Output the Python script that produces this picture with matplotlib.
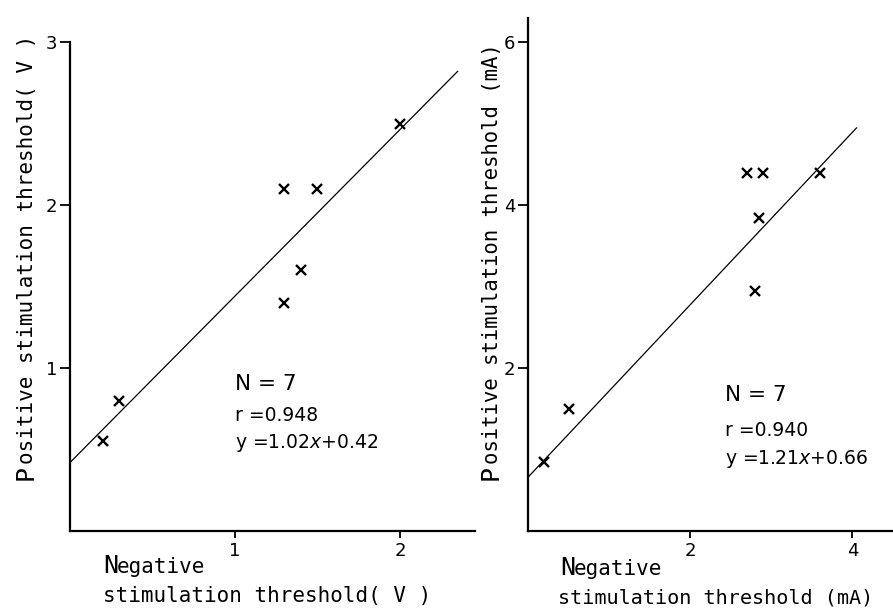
import matplotlib
matplotlib.use("Agg")
import matplotlib.pyplot as plt

# left panel: voltage thresholds
volt_neg = [0.2, 0.3, 1.3, 1.3, 1.4, 1.5, 2.0]
volt_pos = [0.55, 0.8, 1.4, 2.1, 1.6, 2.1, 2.5]
volt_fit_x = [0.0, 2.35]
volt_fit_y = [0.42, 2.82]
volt_stats = ["N = 7", "r =0.948", "y =1.02$x$+0.42"]

# right panel: current thresholds
curr_neg = [0.2, 0.5, 2.7, 2.9, 3.6, 2.85, 2.8]
curr_pos = [0.85, 1.5, 4.4, 4.4, 4.4, 3.85, 2.95]
curr_fit_x = [0.0, 4.05]
curr_fit_y = [0.66, 4.95]
curr_stats = ["N = 7", "r =0.940", "y =1.21$x$+0.66"]

W, H = 893, 610
MONO = "DejaVu Sans Mono"


def px(x, y):
    return x / W, 1 - y / H


def style_axes(ax, xticks, yticks):
    for s in ["top", "right"]:
        ax.spines[s].set_visible(False)
    for s in ["left", "bottom"]:
        ax.spines[s].set_linewidth(1.6)
    ax.set_xticks(xticks)
    ax.set_yticks(yticks)
    ax.set_xticklabels([str(t) for t in xticks])
    ax.set_yticklabels([str(t) for t in yticks])
    ax.tick_params(axis="x", length=5, width=1.3, pad=3, labelsize=13)
    ax.tick_params(axis="y", length=7, width=1.3, pad=2, labelsize=13)


def stats_text(ax, x, ys, lines):
    ax.text(x, ys[0], lines[0], fontsize=15.5, va="center", ha="left")
    ax.text(x, ys[1], lines[1], fontsize=13.5, va="center", ha="left")
    ax.text(x, ys[2], lines[2], fontsize=13.5, va="center", ha="left")


def ylabel(x, y0, rest, size=15):
    fig.text(*px(x, y0), "P", fontsize=18, family=MONO, rotation=90,
             rotation_mode="anchor", ha="left", va="baseline")
    fig.text(*px(x, y0 - 16), rest, fontsize=size, family=MONO, rotation=90,
             rotation_mode="anchor", ha="left", va="baseline")


def xlabel(x, y0, x2, y2, rest, size=15):
    fig.text(*px(x, y0), "N", fontsize=18, family=MONO,
             ha="left", va="baseline")
    fig.text(*px(x + 14, y0), "egative", fontsize=15, family=MONO,
             ha="left", va="baseline")
    fig.text(*px(x2, y2), rest, fontsize=size, family=MONO,
             ha="left", va="baseline")


fig = plt.figure(figsize=(W / 100, H / 100), dpi=100)

ax1 = fig.add_axes([70 / W, 79 / H, 405 / W, 489 / H])
ax1.plot(volt_fit_x, volt_fit_y, color="k", lw=0.9)
ax1.plot(volt_neg, volt_pos, "x", color="k", ms=7, mew=1.7)
ax1.set_xlim(0, 2.455)
ax1.set_ylim(0, 3)
style_axes(ax1, [1, 2], [1, 2, 3])
stats_text(ax1, 1.0, [0.90, 0.71, 0.54], volt_stats)

ax2 = fig.add_axes([528 / W, 79 / H, 365 / W, 513 / H])
ax2.plot(curr_fit_x, curr_fit_y, color="k", lw=0.9)
ax2.plot(curr_neg, curr_pos, "x", color="k", ms=7, mew=1.7)
ax2.set_xlim(0, 4.5)
ax2.set_ylim(0, 6.3)
style_axes(ax2, [2, 4], [2, 4, 6])
stats_text(ax2, 2.43, [1.67, 1.24, 0.88], curr_stats)

ylabel(33, 480, "ositive stimulation threshold( V )")
ylabel(498, 480, "ositive stimulation threshold (mA)", size=14.9)
xlabel(103, 573, 103, 602, "stimulation threshold( V )")
xlabel(560, 575, 558, 603, "stimulation threshold (mA)", size=14.5)

fig.savefig("out.png", dpi=100, facecolor="white")
